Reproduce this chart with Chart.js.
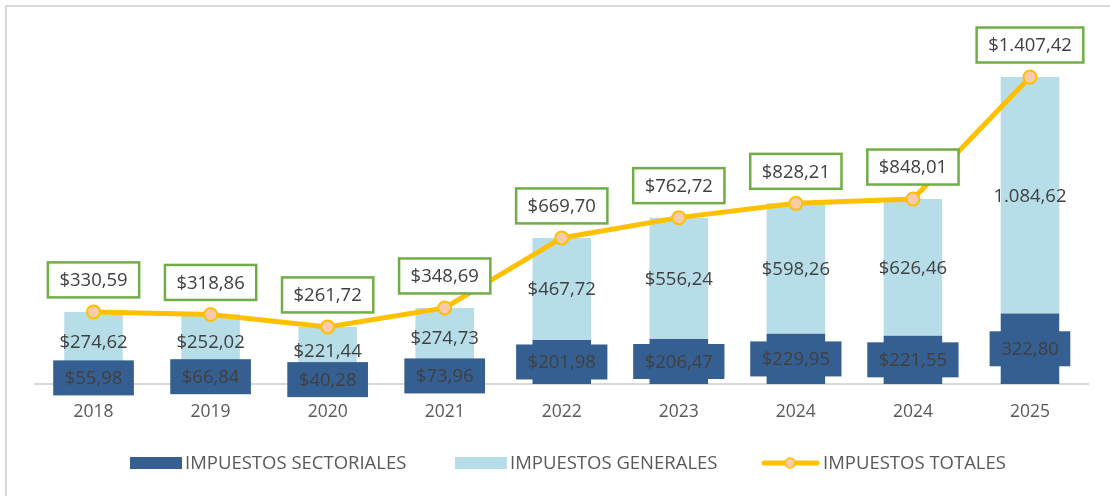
<!DOCTYPE html>
<html>
<head>
<meta charset="utf-8">
<script src="https://cdn.jsdelivr.net/npm/chart.js@4/dist/chart.umd.min.js"></script>
<style>
  html, body { margin: 0; padding: 0; background: #fff; overflow: hidden; }
  #wrap { width: 1110px; height: 496px; position: relative; }
</style>
</head>
<body>
<div id="wrap"><canvas id="grafico" width="1110" height="496"></canvas></div>
<script>
// --- datos ---
const anios = ["2018", "2019", "2020", "2021", "2022", "2023", "2024", "2024", "2025"];
const sectoriales = [55.98, 66.84, 40.28, 73.96, 201.98, 206.47, 229.95, 221.55, 322.8];
const generales = [274.62, 252.02, 221.44, 274.73, 467.72, 556.24, 598.26, 626.46, 1084.62];
const totales = [330.59, 318.86, 261.72, 348.69, 669.7, 762.72, 828.21, 848.01, 1407.42];
// el último año viene sin signo $ en las barras
const conSigno = [true, true, true, true, true, true, true, true, false];

const FUENTE = "'Open Sans', sans-serif";
const AZUL = "#355F91";
const CELESTE = "#B7DDE8";
const AMARILLO = "#FFC000";
const TEXTO = "#404040";

function formato(v, signo) {
  const partes = v.toFixed(2).split(".");
  const entero = partes[0].replace(/\B(?=(\d{3})+(?!\d))/g, ".");
  return (signo ? "$" : "") + entero + "," + partes[1];
}

// cajita con texto centrado
function caja(ctx, texto, cx, cy, fondo, borde) {
  ctx.font = "18.5px " + FUENTE;
  const w = ctx.measureText(texto).width + 23;
  const h = 35;
  ctx.fillStyle = fondo;
  ctx.fillRect(cx - w / 2, cy - h / 2, w, h);
  if (borde) {
    ctx.strokeStyle = borde;
    ctx.lineWidth = 2.5;
    ctx.strokeRect(cx - w / 2, cy - h / 2, w, h);
  }
  ctx.fillStyle = TEXTO;
  ctx.textAlign = "center";
  ctx.textBaseline = "middle";
  ctx.fillText(texto, cx, cy + 1);
}

// --- marco y fondo ---
const marco = {
  id: "marco",
  beforeDraw(chart) {
    const ctx = chart.ctx;
    ctx.save();
    ctx.fillStyle = "#fff";
    ctx.fillRect(0, 0, chart.width, chart.height);
    ctx.strokeStyle = "#D9D9D9";
    ctx.lineWidth = 2;
    ctx.strokeRect(6, 6, chart.width + 20, chart.height + 20);
    ctx.restore();
  },
};

// --- etiquetas de datos ---
const etiquetas = {
  id: "etiquetas",
  afterDatasetsDraw(chart) {
    const ctx = chart.ctx;
    ctx.save();
    const mSect = chart.getDatasetMeta(0);
    const mGen = chart.getDatasetMeta(1);
    const mTot = chart.getDatasetMeta(2);
    mSect.data.forEach((bar, i) => {
      const cy = (bar.y + bar.base) / 2;
      caja(ctx, formato(sectoriales[i], conSigno[i]), bar.x, cy, AZUL, null);
    });
    mGen.data.forEach((bar, i) => {
      const cy = (bar.y + bar.base) / 2;
      ctx.font = "18.5px " + FUENTE;
      ctx.fillStyle = TEXTO;
      ctx.textAlign = "center";
      ctx.textBaseline = "middle";
      ctx.fillText(formato(generales[i], conSigno[i]), bar.x, cy + 1);
    });
    mTot.data.forEach((pt, i) => {
      caja(ctx, formato(totales[i], true), pt.x, pt.y - 32, "#fff", "#70AD47");
    });
    ctx.restore();
  },
};

// --- leyenda dibujada a mano ---
const leyenda = {
  id: "leyenda",
  afterDraw(chart) {
    const ctx = chart.ctx;
    const y = 463;
    ctx.save();
    ctx.font = "18.5px " + FUENTE;
    ctx.fillStyle = "#595959";
    ctx.textBaseline = "middle";
    ctx.textAlign = "left";

    ctx.fillStyle = AZUL;
    ctx.fillRect(130, y - 6, 52, 12);
    ctx.fillStyle = "#595959";
    ctx.fillText("IMPUESTOS SECTORIALES", 185, y + 1);

    ctx.fillStyle = CELESTE;
    ctx.fillRect(455, y - 6, 52, 12);
    ctx.fillStyle = "#595959";
    ctx.fillText("IMPUESTOS GENERALES", 510, y + 1);

    ctx.strokeStyle = AMARILLO;
    ctx.lineWidth = 5;
    ctx.lineCap = "round";
    ctx.beginPath();
    ctx.moveTo(764, y);
    ctx.lineTo(817, y);
    ctx.stroke();
    ctx.beginPath();
    ctx.arc(790, y, 5, 0, Math.PI * 2);
    ctx.fillStyle = "#F8CBAD";
    ctx.fill();
    ctx.lineWidth = 1.5;
    ctx.stroke();
    ctx.fillStyle = "#595959";
    ctx.fillText("IMPUESTOS TOTALES", 823, y + 1);
    ctx.restore();
  },
};

new Chart(document.getElementById("grafico"), {
  type: "bar",
  data: {
    labels: anios,
    datasets: [
      {
        label: "IMPUESTOS SECTORIALES",
        data: sectoriales,
        backgroundColor: AZUL,
        stack: "barras",
        order: 2,
      },
      {
        label: "IMPUESTOS GENERALES",
        data: generales,
        backgroundColor: CELESTE,
        stack: "barras",
        order: 2,
      },
      {
        type: "line",
        label: "IMPUESTOS TOTALES",
        data: totales,
        borderColor: AMARILLO,
        borderWidth: 5,
        pointRadius: 6.5,
        pointBackgroundColor: "#F8CBAD",
        pointBorderColor: AMARILLO,
        pointBorderWidth: 2,
        stack: "linea",
        order: 1,
        tension: 0,
      },
    ],
  },
  options: {
    responsive: false,
    animation: false,
    events: [],
    layout: { padding: { left: 35, right: 21.5, top: 35, bottom: 0 } },
    datasets: { bar: { barPercentage: 0.5, categoryPercentage: 1 } },
    plugins: { legend: { display: false }, tooltip: { enabled: false } },
    scales: {
      x: {
        stacked: true,
        grid: { display: false, drawTicks: false },
        border: { color: "#D9D9D9", width: 2 },
        ticks: { color: "#595959", font: { family: FUENTE, size: 17.5 }, padding: 18 },
        afterFit(scale) {
          scale.height = 112;
        },
      },
      y: { stacked: true, display: false, min: 0, max: 1600 },
    },
  },
  plugins: [marco, etiquetas, leyenda],
});
</script>
</body>
</html>
